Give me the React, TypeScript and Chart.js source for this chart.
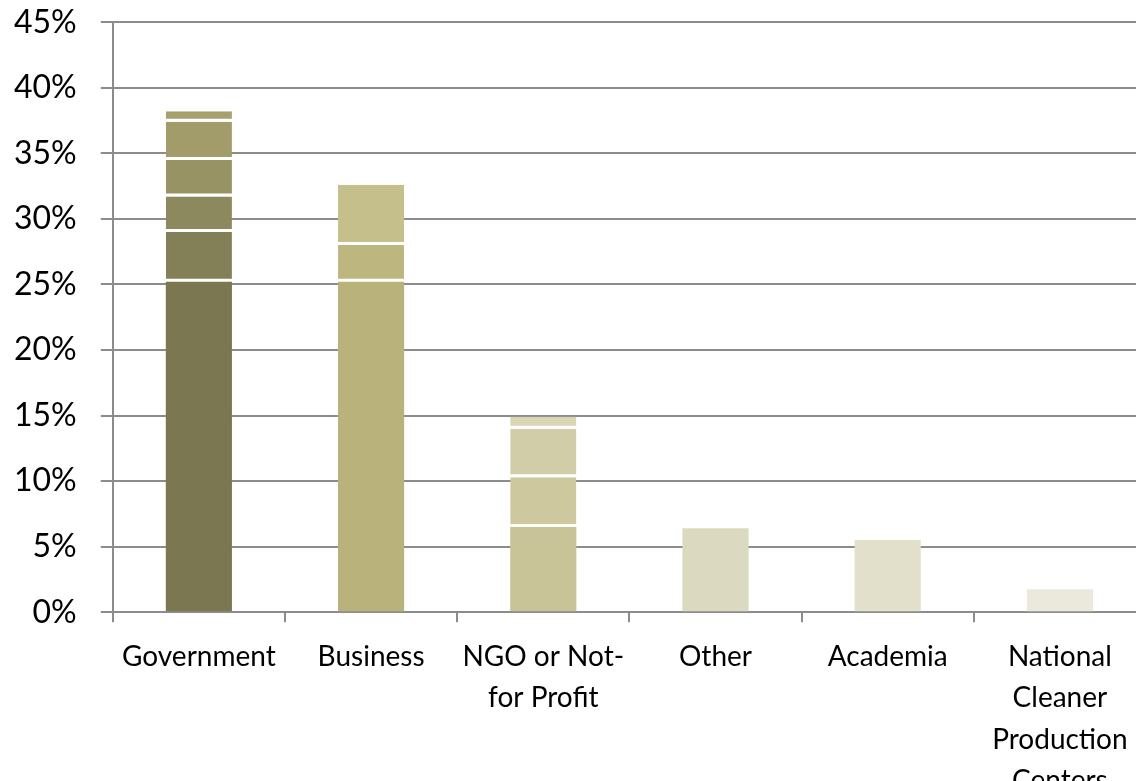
import React, { useEffect, useRef } from "react";
import { Chart, registerables } from "chart.js";

Chart.register(...registerables);

const categories: (string | string[])[] = [
  "Government",
  "Business",
  ["NGO or Not-", "for Profit"],
  "Other",
  "Academia",
  ["National", "Cleaner", "Production", "Centers"],
];

const yTicks = [0, 5, 10, 15, 20, 25, 30, 35, 40, 45];

// stacked segments, bottom to top
const seg1 = [25.2, 25.2, 6.5, 6.4, 5.5, 1.75];
const seg2 = [3.8, 2.8, 3.8, null, null, null];
const seg3 = [2.7, 4.6, 3.7, null, null, null];
const seg4 = [2.8, null, 0.9, null, null, null];
const seg5 = [2.9, null, null, null, null, null];
const seg6 = [0.8, null, null, null, null, null];

const seg1Colors = ["#7b7750", "#b9b27b", "#c9c498", "#dcd9c1", "#e2dfcb", "#ebe8dc"];
const seg2Colors = ["#838057", "#bdb77f", "#cdc89e", "#fff", "#fff", "#fff"];
const seg3Colors = ["#8d895e", "#c5bf8b", "#d2cda9", "#fff", "#fff", "#fff"];
const seg4Colors = ["#979364", "#fff", "#d9d5b5", "#fff", "#fff", "#fff"];
const seg5Colors = ["#a29c6a", "#fff", "#fff", "#fff", "#fff", "#fff"];
const seg6Colors = ["#a6a06d", "#fff", "#fff", "#fff", "#fff", "#fff"];

export default function App() {
  const ref = useRef<HTMLCanvasElement>(null);
  useEffect(() => {
    if (!ref.current) return;
    const segs = [seg1, seg2, seg3, seg4, seg5, seg6];
    const cols = [seg1Colors, seg2Colors, seg3Colors, seg4Colors, seg5Colors, seg6Colors];
    const chart = new Chart(ref.current, {
      type: "bar",
      data: {
        labels: categories,
        datasets: segs.map((d, i) => ({
          label: "s" + i,
          data: d,
          backgroundColor: cols[i],
          borderColor: "#ffffff",
          borderWidth: i === 0 ? 0 : { top: 0, bottom: 3, left: 0, right: 0 },
          borderSkipped: false,
          categoryPercentage: 0.384,
          barPercentage: 1,
        })),
      },
      options: {
        animation: false,
        responsive: false,
        maintainAspectRatio: false,
        layout: { padding: { left: 0, right: 0, top: 6, bottom: 0 } },
        plugins: { legend: { display: false }, tooltip: { enabled: false } },
        scales: {
          x: {
            stacked: true,
            offset: true,
            grid: {
              offset: true,
              drawOnChartArea: false,
              drawTicks: true,
              tickLength: 10,
              color: "#8c8c8c",
              lineWidth: 2,
            },
            border: { display: true, color: "#8c8c8c", width: 2 },
            ticks: {
              color: "#000",
              padding: 14,
              maxRotation: 0,
              autoSkip: false,
              font: { family: "Lato", size: 28, lineHeight: 1.48 },
            },
          },
          y: {
            stacked: true,
            min: 0,
            max: 45,
            afterBuildTicks: (axis: any) => {
              axis.ticks = yTicks.map((v) => ({ value: v }));
            },
            grid: {
              color: "#8c8c8c",
              lineWidth: 2,
              tickLength: 12,
              drawTicks: true,
            },
            border: { display: true, color: "#8c8c8c", width: 2 },
            ticks: {
              color: "#000",
              padding: 24,
              font: { family: "Lato", size: 32 },
              callback: (v: any) => v + "%",
            },
          },
        },
      },
    });
    return () => chart.destroy();
  }, []);
  return (
    <div style={{ position: "fixed", left: 0, top: 0, width: 1136, height: 781, overflow: "hidden", background: "#fff" }}>
      <canvas
        ref={ref}
        width={1156}
        height={837}
        style={{ display: "block", position: "absolute", left: -10, top: -21 }}
      />
    </div>
  );
}
